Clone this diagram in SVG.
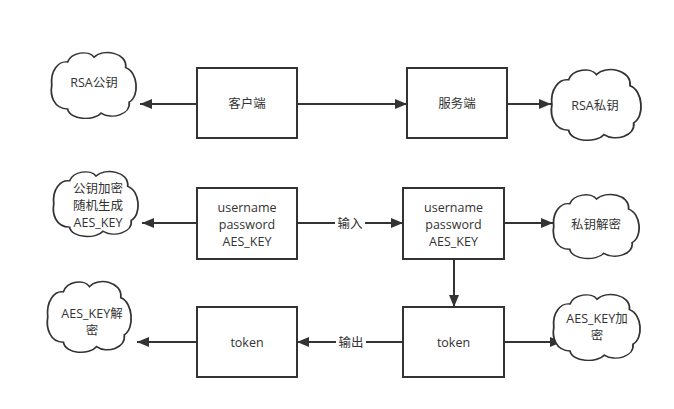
<svg xmlns="http://www.w3.org/2000/svg" width="674" height="409" viewBox="0 0 674 409">
<style>
.box{fill:#fff;stroke:#333;stroke-width:2}
.cloud{fill:#fff;stroke:#333;stroke-width:2;vector-effect:non-scaling-stroke}
.t{font-family:"Open Sans","Noto Sans CJK SC",sans-serif;font-size:12.5px;fill:#333;text-anchor:middle;dominant-baseline:central}
.c{stroke:#333;stroke-width:2;fill:none}
.lbl{fill:#fff}
</style>
<defs>
<marker id="ah" viewBox="0 0 12 10" refX="12" refY="5" markerWidth="12" markerHeight="10" markerUnits="userSpaceOnUse" orient="auto">
<path d="M0,0 L12,5 L0,10 Z" fill="#333"/>
</marker>
<path id="cl" d="M2,50 C0,28 10,14 20,16 C24,2 44,-2 50,9 C60,-4 88,2 86,24 C100,30 102,66 90,74 C92,92 70,100 58,90 C50,102 22,100 20,84 C4,84 0,64 2,50 Z"/>
</defs>
<g id="connectors">
<line class="c" x1="197" y1="104" x2="140" y2="104" marker-end="url(#ah)"/>
<line class="c" x1="297" y1="104" x2="407" y2="104" marker-end="url(#ah)"/>
<line class="c" x1="507" y1="104" x2="551" y2="104" marker-end="url(#ah)"/>
<line class="c" x1="197" y1="223" x2="142" y2="223" marker-end="url(#ah)"/>
<line class="c" x1="297" y1="223" x2="403" y2="223" marker-end="url(#ah)"/>
<line class="c" x1="504" y1="223" x2="553" y2="223" marker-end="url(#ah)"/>
<line class="c" x1="454" y1="259" x2="454" y2="307" marker-end="url(#ah)"/>
<line class="c" x1="403" y1="342" x2="297" y2="342" marker-end="url(#ah)"/>
<line class="c" x1="197" y1="342" x2="137" y2="342" marker-end="url(#ah)"/>
<line class="c" x1="504" y1="342" x2="562" y2="342" marker-end="url(#ah)"/>
<rect class="lbl" x="335" y="214" width="30" height="18"/>
<text class="t" x="350" y="223">输入</text>
<rect class="lbl" x="336" y="333" width="30" height="18"/>
<text class="t" x="351" y="342">输出</text>
</g>
<g id="client">
<rect class="box" x="197" y="68" width="100" height="70"/>
<text class="t" x="247" y="103">客户端</text>
</g>
<g id="server">
<rect class="box" x="407" y="68" width="100" height="70"/>
<text class="t" x="457" y="103">服务端</text>
</g>
<g id="rsa-pub">
<use href="#cl" class="cloud" transform="translate(50,51) scale(0.88,0.69)"/>
<text class="t" x="94" y="82">RSA公钥</text>
</g>
<g id="rsa-priv">
<use href="#cl" class="cloud" transform="translate(550,68) scale(0.93,0.74)"/>
<text class="t" x="595" y="105">RSA私钥</text>
</g>
<g id="client-data">
<rect class="box" x="197" y="188" width="100" height="71"/>
<text class="t" x="247" y="207.5">username</text>
<text class="t" x="247" y="224.5">password</text>
<text class="t" x="247" y="241.5">AES_KEY</text>
</g>
<g id="server-data">
<rect class="box" x="403" y="188" width="101" height="71"/>
<text class="t" x="453.5" y="207.5">username</text>
<text class="t" x="453.5" y="224.5">password</text>
<text class="t" x="453.5" y="241.5">AES_KEY</text>
</g>
<g id="encrypt-cloud">
<use href="#cl" class="cloud" transform="translate(52,170) scale(0.88,0.68)"/>
<text class="t" x="98" y="188.5">公钥加密</text>
<text class="t" x="98" y="205.5">随机生成</text>
<text class="t" x="98" y="222.5">AES_KEY</text>
</g>
<g id="decrypt-cloud">
<use href="#cl" class="cloud" transform="translate(552,193) scale(0.89,0.67)"/>
<text class="t" x="596" y="224">私钥解密</text>
</g>
<g id="token-client">
<rect class="box" x="197" y="307" width="100" height="70"/>
<text class="t" x="247" y="342">token</text>
</g>
<g id="token-server">
<rect class="box" x="403" y="307" width="101" height="70"/>
<text class="t" x="453.5" y="342">token</text>
</g>
<g id="aes-decrypt">
<use href="#cl" class="cloud" transform="translate(46,280) scale(0.87,0.74)"/>
<text class="t" x="92" y="313">AES_KEY解</text>
<text class="t" x="92" y="330">密</text>
</g>
<g id="aes-encrypt">
<use href="#cl" class="cloud" transform="translate(552,293) scale(0.9,0.69)"/>
<text class="t" x="597" y="318">AES_KEY加</text>
<text class="t" x="597" y="335">密</text>
</g>
</svg>
